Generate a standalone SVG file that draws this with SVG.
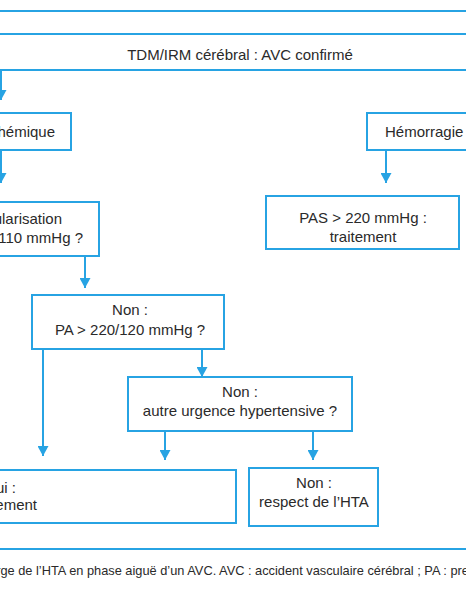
<svg xmlns="http://www.w3.org/2000/svg" width="466" height="600" viewBox="0 0 466 600">
<style>
.box{fill:#fff;stroke:#27a3e3;stroke-width:2}
.t{font-family:"Liberation Sans",Arial,sans-serif;font-size:15px;fill:#2a2a2a}
.c{text-anchor:middle}
.cap{font-family:"Liberation Sans",Arial,sans-serif;font-size:12.8px;fill:#2a2a2a}
.ln{fill:none;stroke:#27a3e3;stroke-width:2}
</style>
<defs>
<marker id="ah" markerUnits="userSpaceOnUse" markerWidth="11" markerHeight="11" refX="10" refY="5.5" orient="auto" viewBox="0 0 10 11">
<path d="M0,0 L10,5.5 L0,11 z" fill="#27a3e3"/>
</marker>
</defs>
<rect width="466" height="600" fill="#fff"/>
<g id="connectors">
<path class="ln" d="M1,70 V100" marker-end="url(#ah)"/>
<path class="ln" d="M1,150 V183" marker-end="url(#ah)"/>
<path class="ln" d="M386,150 V183" marker-end="url(#ah)"/>
<path class="ln" d="M85,256 V288" marker-end="url(#ah)"/>
<path class="ln" d="M43,349 V456" marker-end="url(#ah)"/>
<path class="ln" d="M202,349 V377" marker-end="url(#ah)"/>
<path class="ln" d="M165,431 V460" marker-end="url(#ah)"/>
<path class="ln" d="M313,431 V460" marker-end="url(#ah)"/>
</g>
<g id="title-bar"><rect class="box" x="-5" y="11" width="476" height="23"/></g>
<g id="tdm"><rect class="box" x="-5" y="34" width="476" height="36"/>
<text class="t c" x="240" y="60">TDM/IRM cérébral : AVC confirmé</text></g>
<g id="ischemique"><rect class="box" x="-60" y="113" width="131" height="37"/>
<text class="t" x="55" y="137" text-anchor="end">Ischémique</text></g>
<g id="hemorragie"><rect class="box" x="367" y="113" width="140" height="37"/>
<text class="t" x="385" y="137">Hémorragie</text></g>
<g id="pas"><rect class="box" x="266" y="196" width="193" height="53"/>
<text class="t c" x="363" y="223">PAS &gt; 220 mmHg :</text>
<text class="t c" x="363" y="241.5">traitement</text></g>
<g id="revasc"><rect class="box" x="-120" y="202" width="219" height="54"/>
<text class="t" x="62" y="224" text-anchor="end">Revascularisation</text>
<text class="t" x="83" y="243" text-anchor="end">PA &gt; 185/110 mmHg ?</text></g>
<g id="pa220"><rect class="box" x="32" y="295" width="192" height="54"/>
<text class="t c" x="130" y="315">Non :</text>
<text class="t c" x="130" y="335">PA &gt; 220/120 mmHg ?</text></g>
<g id="autre"><rect class="box" x="128" y="377" width="224" height="54"/>
<text class="t c" x="240" y="397">Non :</text>
<text class="t c" x="240" y="416">autre urgence hypertensive ?</text></g>
<g id="oui"><rect class="box" x="-232" y="470" width="468" height="53"/>
<text class="t" x="16" y="493" text-anchor="end">Oui :</text>
<text class="t" x="37" y="510" text-anchor="end">traitement</text></g>
<g id="respect"><rect class="box" x="249" y="468" width="129" height="58"/>
<text class="t c" x="314" y="488">Non :</text>
<text class="t c" x="314" y="507">respect de l’HTA</text></g>
<path class="ln" d="M-5,549 H471"/>
<text class="cap" x="-75" y="575">Prise en charge de l’HTA en phase aiguë d’un AVC. AVC : accident vasculaire cérébral ; PA : pression artérielle</text>
</svg>
